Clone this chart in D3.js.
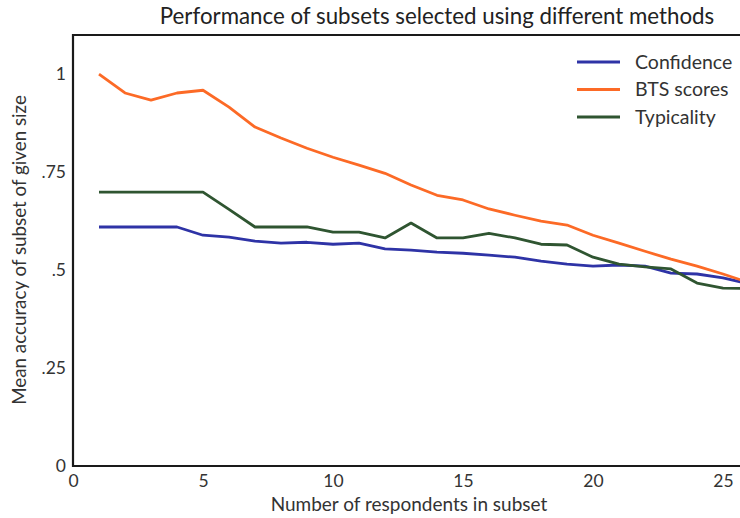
<!DOCTYPE html>
<html>
<head>
<meta charset="utf-8">
<script src="https://cdn.jsdelivr.net/npm/d3@7"></script>
<style>
  body { margin: 0; background: #fff; }
  svg { display: block; font-family: Lato, "Open Sans", sans-serif; }
</style>
</head>
<body>
<div id="chart"></div>
<script>
// subset sizes and mean accuracy per selection method
var sizes = d3.range(1, 27);
var confidence = [0.610, 0.610, 0.610, 0.610, 0.589, 0.584, 0.574, 0.569, 0.571, 0.566,
                  0.569, 0.554, 0.551, 0.546, 0.543, 0.538, 0.533, 0.523, 0.515, 0.510,
                  0.513, 0.510, 0.492, 0.490, 0.480, 0.465];
var btsScores = [1.000, 0.952, 0.934, 0.952, 0.959, 0.916, 0.865, 0.837, 0.811, 0.788,
                 0.768, 0.747, 0.717, 0.691, 0.679, 0.656, 0.640, 0.625, 0.615, 0.589,
                 0.569, 0.548, 0.528, 0.510, 0.490, 0.468];
var typicality = [0.699, 0.699, 0.699, 0.699, 0.699, 0.655, 0.610, 0.610, 0.610, 0.597,
                  0.597, 0.582, 0.620, 0.582, 0.582, 0.594, 0.582, 0.566, 0.564, 0.533,
                  0.515, 0.508, 0.503, 0.467, 0.454, 0.453];
var seriesNames = ["Confidence", "BTS scores", "Typicality"];
var xTicks = [0, 5, 10, 15, 20, 25];
var yTicks = [0, 0.25, 0.5, 0.75, 1];
var yTickLabels = ["0", ".25", ".5", ".75", "1"];

var colors = ["#2e33a6", "#fc6a26", "#2f5531"];
var allSeries = [confidence, btsScores, typicality];

var width = 740, height = 518;
var margin = {top: 35, left: 73, bottom: 53};

var svg = d3.select("#chart")
  .append("svg")
    .attr("width", width)
    .attr("height", height);

// x: 26 px per respondent, plot runs past the right edge
var x = d3.scaleLinear()
  .domain([0, 27])
  .range([margin.left, margin.left + 27 * 26]);

var y = d3.scaleLinear()
  .domain([0, 1.1])
  .range([height - margin.bottom + 1, margin.top]);

// title
svg.append("text")
  .attr("x", 437)
  .attr("y", 24)
  .attr("text-anchor", "middle")
  .style("font-size", "22.3px")
  .style("fill", "#222")
  .text("Performance of subsets selected using different methods");

// lines
var line = d3.line()
  .x(function(d, i) { return x(sizes[i]); })
  .y(function(d) { return y(d); });

svg.append("g")
  .selectAll("path")
  .data(allSeries)
  .enter()
  .append("path")
    .attr("d", line)
    .attr("fill", "none")
    .attr("stroke", function(d, i) { return colors[i]; })
    .attr("stroke-width", 2.8)
    .attr("stroke-linejoin", "round");

// frame (left, top, bottom)
var x0 = x(0), yTop = y(1.1), yBot = y(0);
svg.append("path")
  .attr("d", "M" + width + "," + yTop + "H" + x0 + "V" + yBot + "H" + width)
  .attr("fill", "none")
  .attr("stroke", "#1a1a1a")
  .attr("stroke-width", 2.2);

// x axis labels
var xAxis = svg.append("g")
  .attr("transform", "translate(0," + yBot + ")")
  .call(d3.axisBottom(x).tickValues(xTicks).tickSize(0).tickPadding(9));
xAxis.select(".domain").remove();
xAxis.selectAll("text")
  .style("font-family", "Lato, sans-serif")
  .style("font-size", "17.5px")
  .style("fill", "#333");

// y axis labels
var yAxis = svg.append("g")
  .attr("transform", "translate(" + x0 + ",0)")
  .call(d3.axisLeft(y).tickValues(yTicks).tickSize(0).tickPadding(7)
    .tickFormat(function(d, i) { return yTickLabels[i]; }));
yAxis.select(".domain").remove();
yAxis.selectAll("text")
  .style("font-family", "Lato, sans-serif")
  .style("font-size", "17.5px")
  .style("fill", "#333");

// axis titles
svg.append("text")
  .attr("x", 409)
  .attr("y", 511)
  .attr("text-anchor", "middle")
  .style("font-size", "19px")
  .style("fill", "#333")
  .text("Number of respondents in subset");

svg.append("text")
  .attr("transform", "translate(26," + 250 + ") rotate(-90)")
  .attr("text-anchor", "middle")
  .style("font-size", "18.8px")
  .style("fill", "#333")
  .text("Mean accuracy of subset of given size");

// legend
var legend = svg.selectAll(".legend")
  .data(seriesNames)
  .enter()
  .append("g")
    .attr("class", "legend")
    .attr("transform", function(d, i) { return "translate(577," + (62 + i * 27.5) + ")"; });

legend.append("line")
  .attr("x1", 0)
  .attr("x2", 43)
  .attr("stroke", function(d, i) { return colors[i]; })
  .attr("stroke-width", 2.8);

legend.append("text")
  .attr("x", 58)
  .attr("dy", "0.35em")
  .style("font-size", "19.5px")
  .style("fill", "#333")
  .text(function(d) { return d; });
</script>
</body>
</html>
